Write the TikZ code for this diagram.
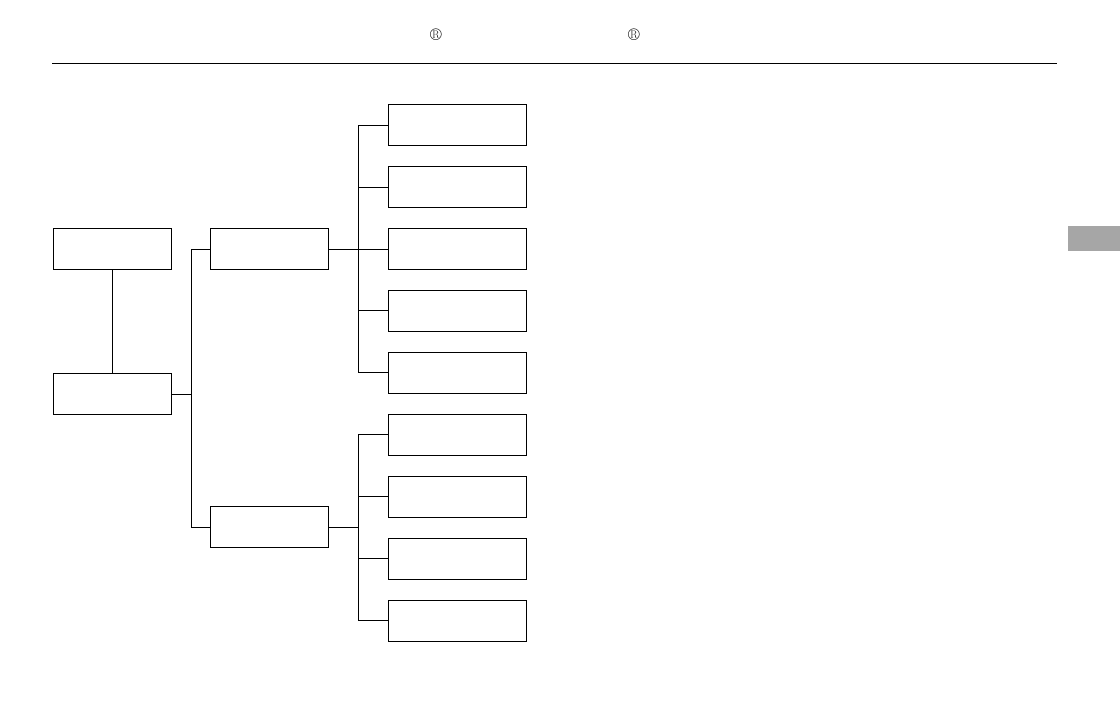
\documentclass[tikz,border=0pt]{standalone}
\usepackage{xcolor}
\usepackage{tikz}
\usetikzlibrary{positioning}
\definecolor{tabgray}{HTML}{A6A6A6}

\begin{document}
\begin{tikzpicture}[
        x=1pt, y=-1pt,
        box/.style={
          draw=black,
          line width=1pt,
          minimum width=118pt,
          minimum height=41pt,
          inner sep=0pt
        },
        leafbox/.style={box, minimum width=138pt},
        link/.style={line width=1pt, draw=black},
        mark sign/.style={font=\fontsize{17}{17}\selectfont, inner sep=0pt}
      ]
        \useasboundingbox (0,0) rectangle (1120,722);

        % header
        \node[mark sign] (regA) at (436,35) {\textregistered};
        \node[mark sign] (regB) at (634,35) {\textregistered};
        \draw[line width=1pt] (52,64) -- (1057,64);
        \fill[tabgray] (1068,226) rectangle (1120,251);

        % left column
        \node[box] (top) at (112,249.5) {};
        \node[box] (root) at (112,394) {};
        \draw[link] (top.south) -- (root.north);

        % middle column
        \node[box] (upper) at (269.5,249.5) {};
        \node[box] (lower) at (269.5,527) {};
        \coordinate (splitL) at (191,394);
        \draw[link] (root.east) -- (splitL);
        \draw[link] (splitL) |- (upper.west);
        \draw[link] (splitL) |- (lower.west);

        % right column
        \coordinate (splitU) at (358,249.5);
        \coordinate (splitD) at (358,527);
        \draw[link] (upper.east) -- (splitU);
        \draw[link] (lower.east) -- (splitD);
        \foreach \y [count=\i] in {125.5,187.5,249.5,311,372.5} {
          \node[leafbox] (up\i) at (457,\y) {};
          \draw[link] (splitU) |- (up\i.west);
        }
        \foreach \y [count=\i] in {434.5,496.5,558.5,620.5} {
          \node[leafbox] (dn\i) at (457,\y) {};
          \draw[link] (splitD) |- (dn\i.west);
        }
      \end{tikzpicture}
\end{document}
